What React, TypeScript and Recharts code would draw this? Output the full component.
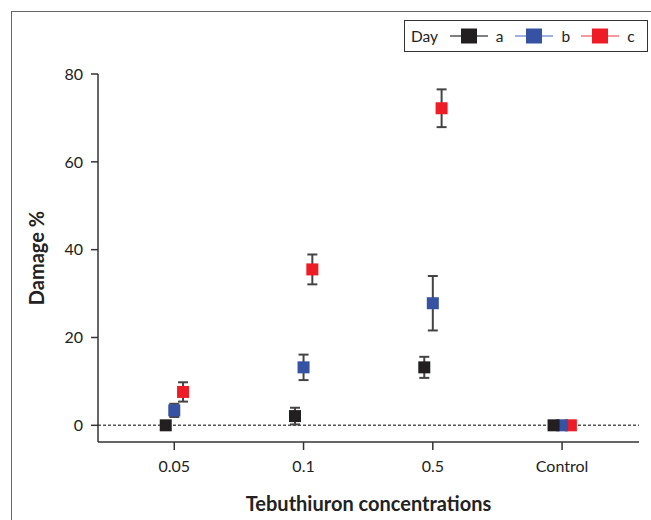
import React from "react";
import { ScatterChart, Scatter, XAxis, YAxis, ErrorBar, ReferenceLine } from "recharts";

const CATEGORIES = ["0.05", "0.1", "0.5", "Control"];
const DAY_A = [0, 2.1, 13.2, 0];
const DAY_A_ERR = [0, 1.9, 2.4, 0];
const DAY_B = [3.4, 13.2, 27.8, 0];
const DAY_B_ERR = [1.5, 2.9, 6.2, 0];
const DAY_C = [7.6, 35.5, 72.2, 0];
const DAY_C_ERR = [2.2, 3.4, 4.3, 0];
const Y_TICKS = [0, 20, 40, 60, 80];

const FONT = "Lato, 'Open Sans', sans-serif";
const BLACK = "#231f20";
const BLUE = "#3552a3";
const RED = "#ee1c24";

// small dodge so the three days sit side by side on each category
const DODGE = [-0.066, 0, 0.068];

const build = (vals: number[], errs: number[], d: number) =>
  vals.map((v, i) => ({ x: i + 1 + d, y: v, err: errs[i] ? errs[i] : null }));

const series = [
  { key: "c", color: RED, line: "#f07a80", data: build(DAY_C, DAY_C_ERR, DODGE[2]) },
  { key: "b", color: BLUE, line: "#8196d4", data: build(DAY_B, DAY_B_ERR, DODGE[1]) },
  { key: "a", color: BLACK, line: "#555", data: build(DAY_A, DAY_A_ERR, DODGE[0]) },
];

const square = (color: string) => (p: any) =>
  <rect x={p.cx - 6} y={p.cy - 6} width={12} height={12} fill={color} />;

function LegendBox() {
  const items = [...series].reverse();
  return (
    <div style={{
      position: "absolute", left: 404, top: 20, width: 244, height: 32, boxSizing: "border-box",
      border: "1.5px solid #333", background: "#fff", fontFamily: FONT, fontSize: 15.5, color: "#222",
      display: "flex", alignItems: "center", paddingLeft: 6,
    }}>
      <span style={{ width: 40 }}>Day</span>
      {items.map((s) => (
        <span key={s.key} style={{ display: "flex", alignItems: "center", width: 68 }}>
          <svg width={38} height={16}>
            <line x1={0} x2={38} y1={8} y2={8} stroke={s.line} strokeWidth={1.5} />
            <rect x={11} y={0.5} width={16} height={15} fill={s.color} />
          </svg>
          <span style={{ marginLeft: 8 }}>{s.key}</span>
        </span>
      ))}
    </div>
  );
}

export default function App() {
  return (
    <div style={{ position: "absolute", left: 0, top: 0, width: 651, height: 520, background: "#fff", overflow: "hidden" }}>
      <div style={{ position: "absolute", left: 11, top: 11, width: 700, height: 600, borderLeft: "1.5px solid #666", borderTop: "1.5px solid #666" }} />
      <ScatterChart width={651} height={520} margin={{ top: 74, right: 12, bottom: 0, left: 38 }}>
        <XAxis
          type="number" dataKey="x" domain={[0.41, 4.595]} ticks={[1, 2, 3, 4]}
          tickFormatter={(v: number) => CATEGORIES[v - 1] ?? ""}
          height={78} tickSize={8} tickMargin={11}
          stroke="#333" strokeWidth={1.5}
          tick={{ fontFamily: FONT, fontSize: 16, fill: "#222" }}
          label={{ value: "Tebuthiuron concentrations", position: "insideBottom", offset: 9, fontFamily: FONT, fontSize: 20, fontWeight: 700, fill: "#222" }}
        />
        <YAxis
          type="number" dataKey="y" domain={[-3.8, 80]} ticks={Y_TICKS}
          width={60} tickSize={7} tickMargin={8}
          stroke="#333" strokeWidth={1.5}
          tick={{ fontFamily: FONT, fontSize: 16, fill: "#222" }}
          label={{ value: "Damage %", angle: -90, position: "insideLeft", offset: -1, textAnchor: "middle", fontFamily: FONT, fontSize: 20, fontWeight: 700, fill: "#222" }}
        />
        <ReferenceLine y={0} stroke="#555" strokeWidth={1.5} strokeDasharray="3 2" />
        {series.map((s) => (
          <Scatter key={s.key} name={s.key} data={s.data} fill={s.color} shape={square(s.color)} isAnimationActive={false}>
            <ErrorBar dataKey="err" direction="y" width={5} stroke="#444" strokeWidth={2} />
          </Scatter>
        ))}
      </ScatterChart>
      <LegendBox />
    </div>
  );
}
